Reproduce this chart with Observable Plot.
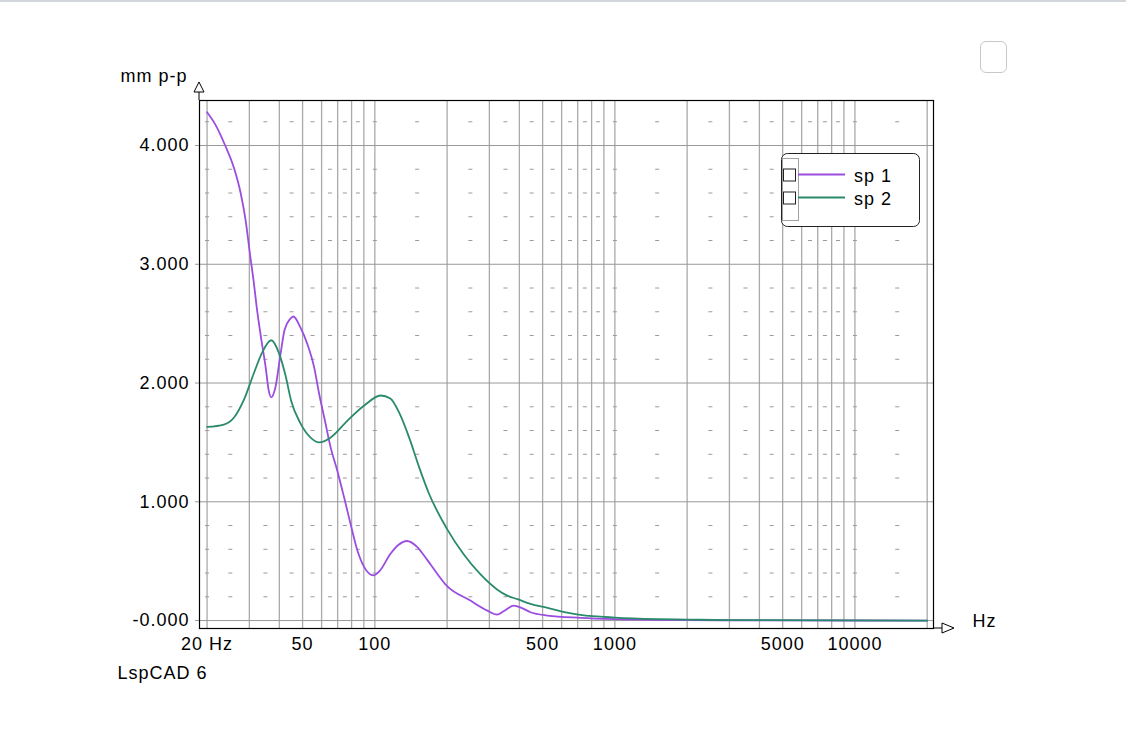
<!DOCTYPE html>
<html><head><meta charset="utf-8">
<script src="https://cdn.jsdelivr.net/npm/d3@7"></script>
<script src="https://cdn.jsdelivr.net/npm/@observablehq/plot@0.6"></script>
<style>
body{margin:0;background:#fff;font-family:"Liberation Sans",Arial,sans-serif;}
#page{position:relative;width:1126px;height:743px;overflow:hidden;}
#topline{position:absolute;left:0;top:0;width:1126px;height:2px;background:#d3d6da;}
#btn{position:absolute;left:980px;top:41px;width:25px;height:30px;border:1px solid #c8c8c8;border-radius:6px;background:#fff;}
#chart{position:absolute;left:0;top:0;}
svg text{letter-spacing:1px;}
</style></head><body>
<div id="page"><div id="chart"></div><div id="topline"></div><div id="btn"></div></div>
<script>
// ---- data ----
const seriesNames = ["sp 1", "sp 2"];
const seriesColors = ["#9a4de0", "#2a8a6c"];
const freq1 = [20, 21.6, 23.8, 25.9, 27.6, 28.9, 30.3, 31.3, 32.2, 33.4, 35.1, 36.1, 37.0, 38.5, 40.5, 42.1, 44.4, 45.8, 48.9, 52.3, 55.9, 58.6, 62, 65.4, 69.8, 74.4, 79.3, 84.6, 90.3, 98.8, 105, 116, 126, 136, 150, 160, 171, 200, 249, 294, 323, 345, 379, 410, 445, 524, 718, 1000, 1500, 2000, 5000, 20000];
const sp1 = [4.28, 4.18, 4.00, 3.81, 3.60, 3.38, 3.06, 2.85, 2.64, 2.41, 2.13, 1.94, 1.88, 1.96, 2.25, 2.45, 2.54, 2.56, 2.47, 2.33, 2.13, 1.91, 1.68, 1.46, 1.26, 1.04, 0.81, 0.59, 0.45, 0.38, 0.42, 0.56, 0.64, 0.67, 0.62, 0.55, 0.47, 0.29, 0.17, 0.084, 0.05, 0.08, 0.126, 0.105, 0.07, 0.042, 0.023, 0.012, 0.006, 0.004, 0.001, 0.0];
const freq2 = [20, 23.5, 25.9, 28.5, 31.3, 33.8, 37.0, 39.9, 42.6, 44.8, 49, 54, 58.6, 65.3, 76.6, 90.3, 105.7, 116, 127, 139, 153, 168, 200, 234, 275, 324, 356, 393, 445, 524, 615, 718, 1000, 1500, 2000, 3000, 20000];
const sp2 = [1.63, 1.65, 1.71, 1.86, 2.08, 2.25, 2.36, 2.25, 2.05, 1.85, 1.66, 1.54, 1.50, 1.54, 1.68, 1.81, 1.895, 1.87, 1.74, 1.54, 1.29, 1.07, 0.77, 0.56, 0.39, 0.26, 0.21, 0.18, 0.14, 0.107, 0.07, 0.048, 0.025, 0.012, 0.008, 0.004, 0.0];
const xGrid = [20,30,40,50,60,70,80,90,100,200,300,400,500,600,700,800,900,1000,2000,3000,4000,5000,6000,7000,8000,9000,10000,20000];
const xMinor = [20,25,35,45,55,65,75,85,100,150,250,350,450,550,650,750,850,1000,1500,2500,3500,4500,5500,6500,7500,8500,10000,15000];
const yGrid = [0,1,2,3,4];
const yMinor = [0.2,0.4,0.6,0.8,1.2,1.4,1.6,1.8,2.2,2.4,2.6,2.8,3.2,3.4,3.6,3.8,4.2];
const xTicks = [20,50,100,500,1000,5000,10000];
const xTickLabels = ["20 Hz","50","100","500","1000","5000","10000"];
const yTickLabels = ["-0.000","1.000","2.000","3.000","4.000"];
const xDomain = [18.6, 21250];
const yDomain = [-0.067, 4.379];
const yTitle = "mm p-p", xUnit = "Hz", footer = "LspCAD 6";

// ---- tables ----
const rows = [
  ...freq1.map((f,i)=>({f, v: sp1[i], s: seriesNames[0]})),
  ...freq2.map((f,i)=>({f, v: sp2[i], s: seriesNames[1]}))
];
const minorPts = xMinor.flatMap(x => yMinor.map(y => ({x, y})));
const xLabelRows = xTicks.map((x, i) => ({x, label: xTickLabels[i]}));
const dash = {draw(ctx){ ctx.moveTo(-2,0); ctx.lineTo(2,0); }};

const W = 1126, H = 743, ML = 199, MR = 193, MT = 100, MB = 115;
const font = '"Liberation Sans", Arial, sans-serif';

const plot = Plot.plot({
  width: W, height: H,
  marginLeft: ML, marginRight: MR, marginTop: MT, marginBottom: MB,
  style: {fontFamily: font, fontSize: "18px", color: "#000", background: "transparent", overflow: "visible"},
  x: {type: "log", domain: xDomain, axis: null},
  y: {domain: yDomain},
  color: {domain: seriesNames, range: seriesColors},
  marks: [
    Plot.ruleX(xGrid, {stroke: "#aaaaaa", strokeWidth: 1.3}),
    Plot.ruleY(yGrid, {stroke: "#999999", strokeWidth: 1}),
    Plot.dot(minorPts, {x: "x", y: "y", symbol: dash, r: 2, stroke: "#9a9a9a", strokeWidth: 1, fill: "none"}),
    Plot.line(rows, {x: "f", y: "v", z: "s", stroke: "s", strokeWidth: 1.8, curve: "monotone-x"}),
    Plot.frame({stroke: "#000", strokeWidth: 1.2}),
    Plot.axisY({ticks: yGrid, tickFormat: d => yTickLabels[yGrid.indexOf(d)], tickSize: 4, tickPadding: 6, stroke: "#999", label: null, fontSize: 18}),
    Plot.text(xLabelRows, {x: "x", text: "label", frameAnchor: "bottom", lineAnchor: "top", dy: 9, fontSize: 18, fill: "#000"}),
    Plot.text([yTitle], {frameAnchor: "top-left", dx: -12, dy: -31, textAnchor: "end", fontSize: 18}),
    Plot.text([xUnit], {frameAnchor: "bottom-right", dx: 39, dy: -2, textAnchor: "start", fontSize: 18}),
    Plot.text([footer], {frameAnchor: "bottom-left", dx: -82, dy: 50, textAnchor: "start", fontSize: 18})
  ]
});
document.getElementById("chart").appendChild(plot);

// ---- axis arrows & legend ----
const svg = d3.select(plot);
const L = ML, R = W - MR, T = MT, B = H - MB;
const g = svg.append("g").attr("fill", "white").attr("stroke", "#000").attr("stroke-width", 1);
g.append("line").attr("x1", L).attr("x2", L).attr("y1", T).attr("y2", T - 8);
g.append("path").attr("d", `M${L},${T-18}L${L-5},${T-8}L${L+5},${T-8}Z`);
g.append("line").attr("x1", R).attr("x2", R + 9).attr("y1", B).attr("y2", B);
g.append("path").attr("d", `M${R+21},${B}L${R+9},${B-5}L${R+9},${B+5}Z`);

const lg = svg.append("g").attr("transform", `translate(${R - 152},${T + 53})`);
lg.append("rect").attr("x", 0.5).attr("y", 0.5).attr("width", 138).attr("height", 73).attr("rx", 6)
  .attr("fill", "white").attr("stroke", "#222").attr("stroke-width", 1);
lg.append("rect").attr("x", 1.5).attr("y", 5.5).attr("width", 16).attr("height", 62)
  .attr("fill", "none").attr("stroke", "#444").attr("stroke-dasharray", "1,1");
seriesNames.forEach((name, i) => {
  const yy = 21.5 + i * 23;
  lg.append("rect").attr("x", 2.5).attr("y", yy - 5.5).attr("width", 12).attr("height", 12)
    .attr("fill", "white").attr("stroke", "#222");
  lg.append("line").attr("x1", 17).attr("x2", 64).attr("y1", yy).attr("y2", yy)
    .attr("stroke", seriesColors[i]).attr("stroke-width", 1.8);
  lg.append("text").attr("x", 73).attr("y", yy + 7).attr("text-anchor", "start")
    .attr("font-family", font).attr("font-size", 18).attr("fill", "#000").text(name);
});
</script>
</body></html>
